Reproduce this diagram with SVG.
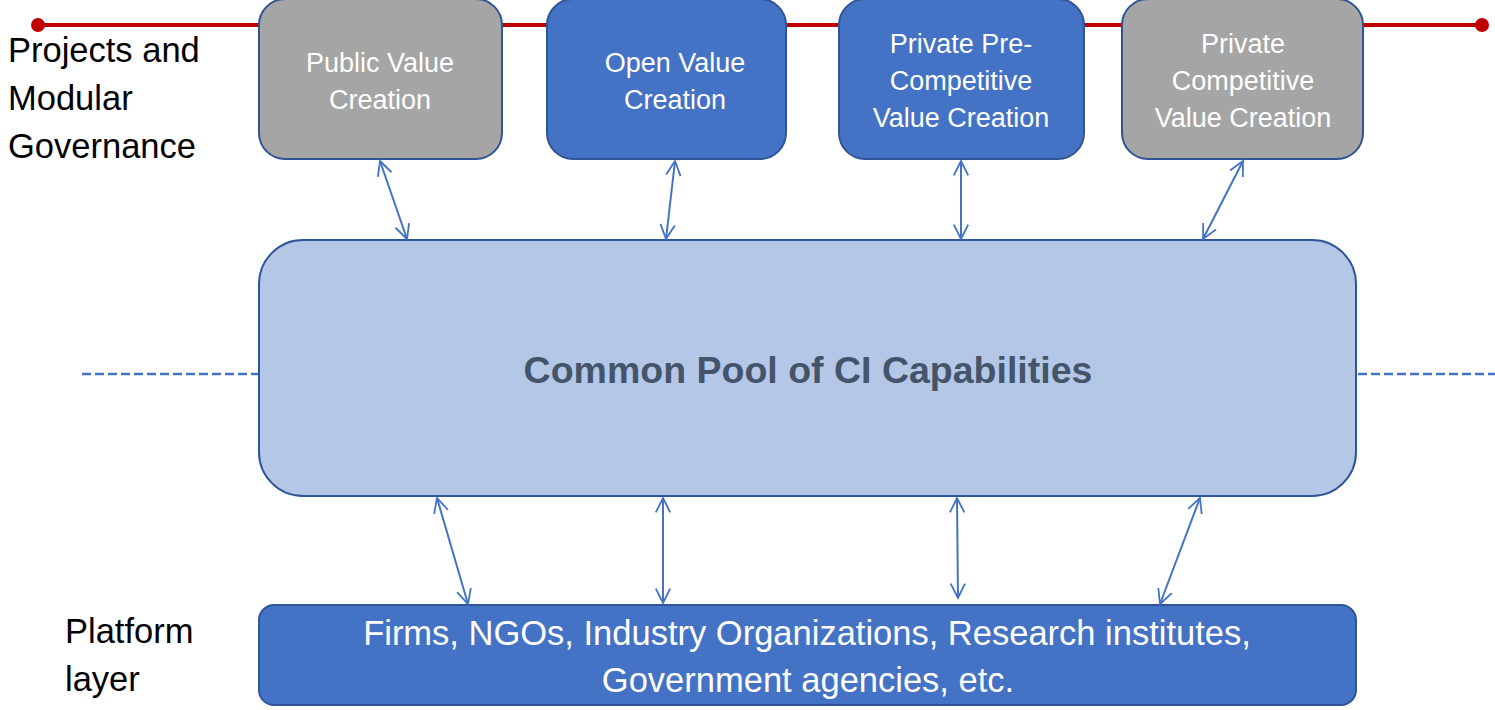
<svg xmlns="http://www.w3.org/2000/svg" width="1495" height="710" viewBox="0 0 1495 710">
<style>
.lbl{font-family:"Liberation Sans",Arial,sans-serif;font-size:34.5px;fill:#000}
.bt{font-family:"Liberation Sans",Arial,sans-serif;font-size:27px;fill:#fff;text-anchor:middle}
.gray{fill:#A5A5A5;stroke:#2F5597;stroke-width:2}
.blue{fill:#4472C4;stroke:#2F5597;stroke-width:2}
.conn{stroke:#4472C4;stroke-width:2;fill:none;marker-start:url(#ah);marker-end:url(#ah)}
</style>
<defs>
<marker id="ah" viewBox="0 0 20 20" refX="18" refY="10" markerWidth="18" markerHeight="18" markerUnits="userSpaceOnUse" orient="auto-start-reverse">
<path d="M2,2 L18,10 L2,18" fill="none" stroke="#4472C4" stroke-width="2"/>
</marker>
</defs>
<g id="timeline">
<line x1="38" y1="25" x2="1482" y2="25" stroke="#C00000" stroke-width="4"/>
<circle cx="38" cy="25" r="7" fill="#C00000"/>
<circle cx="1482" cy="25" r="7" fill="#C00000"/>
</g>
<g id="dashed">
<line x1="82" y1="374" x2="258" y2="374" stroke="#4472C4" stroke-width="2.5" stroke-dasharray="9,4"/>
<line x1="1358" y1="374" x2="1495" y2="374" stroke="#4472C4" stroke-width="2.5" stroke-dasharray="9,4"/>
</g>
<g id="label-projects">
<text class="lbl" x="8" y="62">Projects and</text>
<text class="lbl" x="8" y="110">Modular</text>
<text class="lbl" x="8" y="158">Governance</text>
</g>
<g id="label-platform">
<text class="lbl" x="65" y="643">Platform</text>
<text class="lbl" x="65" y="691">layer</text>
</g>
<g id="public">
<rect class="gray" x="259" y="-1" width="243" height="160" rx="26"/>
<text class="bt" x="380" y="72">Public Value</text>
<text class="bt" x="380" y="109">Creation</text>
</g>
<g id="open">
<rect class="blue" x="547" y="-1" width="239" height="160" rx="26"/>
<text class="bt" x="675" y="72">Open Value</text>
<text class="bt" x="675" y="109">Creation</text>
</g>
<g id="precomp">
<rect class="blue" x="839" y="-1" width="245" height="160" rx="26"/>
<text class="bt" x="961" y="53">Private Pre-</text>
<text class="bt" x="961" y="90">Competitive</text>
<text class="bt" x="961" y="127">Value Creation</text>
</g>
<g id="comp">
<rect class="gray" x="1122" y="-1" width="241" height="160" rx="26"/>
<text class="bt" x="1243" y="53">Private</text>
<text class="bt" x="1243" y="90">Competitive</text>
<text class="bt" x="1243" y="127">Value Creation</text>
</g>
<g id="pool">
<rect x="259" y="240" width="1097" height="256" rx="44" fill="#B4C7E7" stroke="#2F5597" stroke-width="2"/>
<text x="808" y="383" text-anchor="middle" font-family="Liberation Sans,Arial,sans-serif" font-weight="bold" font-size="37.5" fill="#44546A">Common Pool of CI Capabilities</text>
</g>
<g id="platform">
<rect class="blue" x="259" y="605" width="1097" height="100" rx="15"/>
<text x="807" y="645" text-anchor="middle" font-family="Liberation Sans,Arial,sans-serif" font-size="34.5" fill="#fff">Firms, NGOs, Industry Organizations, Research institutes,</text>
<text x="808" y="692" text-anchor="middle" font-family="Liberation Sans,Arial,sans-serif" font-size="34.5" fill="#fff">Government agencies, etc.</text>
</g>
<g id="connectors">
<line class="conn" x1="380" y1="161" x2="407" y2="239"/>
<line class="conn" x1="675" y1="161" x2="666" y2="239"/>
<line class="conn" x1="961" y1="161" x2="961" y2="239"/>
<line class="conn" x1="1243" y1="161" x2="1203" y2="239"/>
<line class="conn" x1="437" y1="498" x2="468" y2="604"/>
<line class="conn" x1="663" y1="498" x2="663" y2="603"/>
<line class="conn" x1="957" y1="498" x2="958" y2="598"/>
<line class="conn" x1="1200" y1="498" x2="1160" y2="604"/>
</g>
</svg>
